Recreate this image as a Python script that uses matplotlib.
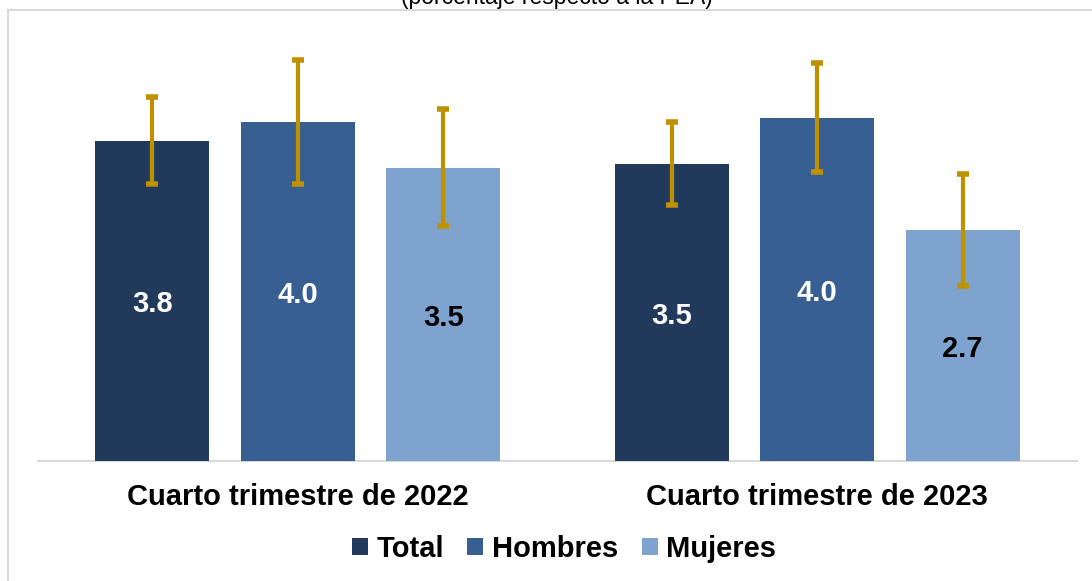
import numpy as np
import matplotlib
matplotlib.use('Agg')
import matplotlib.pyplot as plt
from matplotlib.patches import Patch
from matplotlib.lines import Line2D

plt.rcParams['font.family'] = ['Liberation Sans', 'DejaVu Sans']

# data
periods = ['Cuarto trimestre de 2022', 'Cuarto trimestre de 2023']
series = ['Total', 'Hombres', 'Mujeres']
total = [3.77, 3.50]
hombres = [3.99, 4.04]
mujeres = [3.45, 2.72]
err_total = [0.51, 0.49]
err_hombres = [0.73, 0.64]
err_mujeres = [0.69, 0.66]

colors = ['#213A5C', '#385F91', '#7EA3CE']
label_colors = ['white', 'white', 'black']
err_color = '#BF9000'

fig = plt.figure(figsize=(10.92, 5.81), dpi=100)
ax = fig.add_axes([38 / 1092, 120 / 581, 1039 / 1092, 425 / 581])

x = np.arange(len(periods))
offsets = [-0.28, 0.0, 0.28]
width = 0.22
vals = [total, hombres, mujeres]
errs = [err_total, err_hombres, err_mujeres]

for i in range(3):
    xs = x + offsets[i]
    ax.bar(xs, vals[i], width=width, color=colors[i], zorder=2)
    ax.errorbar(xs, vals[i], yerr=errs[i], fmt='none', ecolor=err_color,
                elinewidth=3, capsize=4.5, capthick=4, zorder=3)
    for xi, v in zip(xs, vals[i]):
        ax.text(xi, v / 2 - 0.04, f'{v:.1f}', ha='center', va='center',
                fontsize=21, fontweight='bold', color=label_colors[i], zorder=4)

ax.set_xlim(-0.5, 1.5)
ax.set_ylim(0, 5)
ax.set_yticks([])
ax.set_xticks(x)
ax.set_xticklabels(periods, fontsize=21, fontweight='bold')
ax.tick_params(axis='x', length=0, pad=16)
for s in ['top', 'right', 'left']:
    ax.spines[s].set_visible(False)
ax.spines['bottom'].set_color('#D9D9D9')
ax.spines['bottom'].set_linewidth(1.5)
ax.spines['bottom'].set_zorder(1)

handles = [Patch(facecolor=c) for c in colors]
fig.legend(handles, series, loc='center', bbox_to_anchor=(564 / 1092, 1 - 549 / 581),
           ncol=3, frameon=False, handlelength=0.55, handleheight=0.55,
           handletextpad=0.3, columnspacing=0.8,
           prop={'size': 21, 'weight': 'bold'})

# clipped subtitle and chart frame
fig.text(0.51, 1 - 4 / 581, '(porcentaje respecto a la PEA)', ha='center',
         va='baseline', fontsize=16.5, color='#000000')
fig.add_artist(Line2D([7.5 / 1092, 1.0], [1 - 9.5 / 581, 1 - 9.5 / 581],
                      color='#D9D9D9', linewidth=1.5))
fig.add_artist(Line2D([7.5 / 1092, 7.5 / 1092], [0.0, 1 - 9.5 / 581],
                      color='#D9D9D9', linewidth=1.5))

plt.savefig('out.png', dpi=100)
plt.close()
